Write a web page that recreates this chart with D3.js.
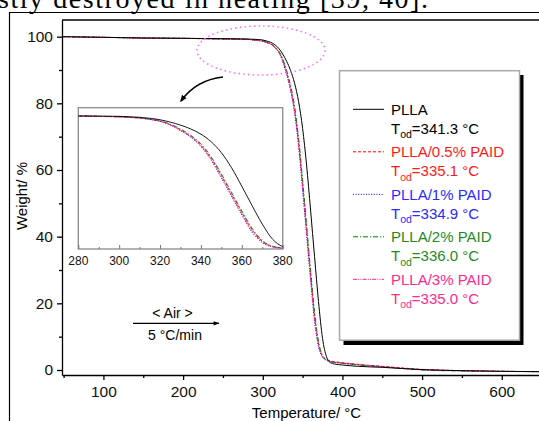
<!DOCTYPE html>
<html>
<head>
<meta charset="utf-8">
<script src="https://cdn.jsdelivr.net/npm/d3@7"></script>
<style>
  body { margin: 0; background: #fff; }
  svg { display: block; font-family: "Liberation Sans", Arial, sans-serif; }
</style>
</head>
<body>
<svg id="chart" width="539" height="421"></svg>
<script>
// temperatures (°C) and weight (%)
var temps = [48, 100, 150, 200, 250, 280, 290, 300, 305, 310, 315, 320, 325, 330, 335, 340, 345, 350, 355, 360, 365, 370, 375, 380, 385, 390, 400, 420, 450, 500, 550, 600, 650];
var plla  = [100, 99.8, 99.6, 99.5, 99.4, 99.3, 99.2, 99.0, 98.7, 98.3, 97.6, 96.5, 94.8, 92.6, 89.8, 86.0, 80.5, 72.5, 61.5, 48.0, 34.0, 20.5, 9.5, 4.0, 2.2, 1.8, 1.5, 1.1, 0.8, 0.1, -0.2, -0.4, -0.5];
var p05   = [100, 99.8, 99.6, 99.5, 99.3, 99.2, 99.0, 98.7, 98.3, 97.8, 96.9, 95.5, 93.0, 89.2, 84.5, 78.0, 68.5, 56.0, 42.5, 29.0, 16.5, 8.0, 4.2, 3.2, 2.7, 2.5, 2.2, 1.7, 1.1, 0.2, -0.2, -0.4, -0.5];
var p1    = [100, 99.8, 99.6, 99.5, 99.3, 99.2, 98.9, 98.6, 98.2, 97.7, 96.7, 95.3, 92.6, 88.5, 83.8, 77.0, 67.0, 54.0, 40.5, 27.0, 14.5, 7.0, 3.8, 2.9, 2.5, 2.3, 2.0, 1.6, 1.0, 0.1, -0.2, -0.4, -0.5];
var p2    = [100, 99.8, 99.6, 99.5, 99.3, 99.2, 99.0, 98.7, 98.4, 97.9, 97.0, 95.7, 93.4, 89.8, 85.2, 79.0, 69.5, 57.0, 43.5, 30.0, 17.5, 8.5, 4.3, 3.0, 2.5, 2.3, 2.0, 1.5, 1.0, 0.0, -0.3, -0.4, -0.5];
var p3    = [100, 99.8, 99.6, 99.5, 99.3, 99.2, 98.9, 98.6, 98.2, 97.8, 96.8, 95.4, 92.8, 88.9, 84.1, 77.5, 67.8, 55.0, 41.5, 28.0, 15.5, 7.5, 4.0, 3.0, 2.6, 2.4, 2.1, 1.6, 1.0, 0.1, -0.2, -0.4, -0.5];

var names  = ["PLLA", "PLLA/0.5% PAID", "PLLA/1% PAID", "PLLA/2% PAID", "PLLA/3% PAID"];
var tods   = ["341.3", "335.1", "334.9", "336.0", "335.0"];
var colors = ["#000000", "#ff0000", "#0000ff", "#008000", "#ff1f8f"];
var textColors = ["#000000", "#ff1a1a", "#2a2aff", "#1f8a1f", "#ff2a90"];
var dashes = [null, "3,2", "1,1.6", "5,2,1,2", "4,1.2,1,1.2,1,1.2"];
var seriesValues = [plla, p05, p1, p2, p3];

var xTicks = [100, 200, 300, 400, 500, 600];
var yTicks = [0, 20, 40, 60, 80, 100];
var insetTicks = [280, 300, 320, 340, 360, 380];

var svg = d3.select("#chart");

// cropped line of text from the paper above the figure
svg.append("text")
   .attr("x", -2).attr("y", 8)
   .attr("font-family", "Liberation Serif, Times New Roman, serif")
   .attr("font-size", 28)
   .attr("textLength", 430)
   .text("stly destroyed in heating [39, 40].");

// outer frame
svg.append("path")
   .attr("d", "M9.5,421 L9.5,12.5 L539,12.5")
   .attr("fill", "none").attr("stroke", "#000").attr("stroke-width", 1.2);

var x = d3.scaleLinear().domain([48, 650]).range([62, 541.6]);
var y = d3.scaleLinear().domain([-1.5, 105]).range([375, 20]);

var series = seriesValues.map(function(vals, i) {
    return temps.map(function(t, j) { return {t: t, w: vals[j]}; });
});

svg.append("clipPath").attr("id", "plotclip")
   .append("rect").attr("x", 62).attr("y", 20).attr("width", 480).attr("height", 355);

var line = d3.line()
    .x(function(d) { return x(d.t); })
    .y(function(d) { return y(d.w); })
    .curve(d3.curveMonotoneX);

var order = [1, 2, 3, 4, 0];
var plot = svg.append("g").attr("clip-path", "url(#plotclip)");
order.forEach(function(i) {
    plot.append("path")
        .attr("d", line(series[i]))
        .attr("fill", "none")
        .attr("stroke", colors[i])
        .attr("stroke-width", 1)
        .attr("stroke-dasharray", dashes[i]);
});

// axes
var xAxis = svg.append("g").attr("transform", "translate(0,375)")
    .call(d3.axisBottom(x).tickValues(xTicks).tickSize(5).tickSizeOuter(0).tickFormat(d3.format("d")));
svg.append("g").attr("transform", "translate(0,375)")
    .call(d3.axisBottom(x).tickValues([50, 150, 250, 350, 450, 550, 650]).tickSize(3).tickFormat(""))
    .select(".domain").remove();
var yAxis = svg.append("g").attr("transform", "translate(62,0)")
    .call(d3.axisLeft(y).tickValues(yTicks).tickSize(5).tickSizeOuter(0).tickFormat(d3.format("d")));
svg.append("g").attr("transform", "translate(62,0)")
    .call(d3.axisLeft(y).tickValues([10, 30, 50, 70, 90]).tickSize(3).tickFormat(""))
    .select(".domain").remove();

svg.selectAll(".domain, .tick line").attr("stroke", "#000").attr("stroke-width", 1.3);
xAxis.selectAll("text").attr("font-size", 15.5).attr("fill", "#111").attr("dy", "1.0em").attr("y", 6);
yAxis.selectAll("text").attr("font-size", 15.5).attr("fill", "#111").attr("x", -9);
svg.selectAll(".tick text").attr("font-family", "Liberation Sans, Arial, sans-serif");

// top frame line
svg.append("line").attr("x1", 62).attr("x2", 539).attr("y1", 20).attr("y2", 20)
   .attr("stroke", "#000").attr("stroke-width", 1.3);

// axis titles
svg.append("text").attr("x", 306.5).attr("y", 418).attr("text-anchor", "middle")
   .attr("font-size", 15).text("Temperature/ °C");
svg.append("text").attr("transform", "translate(27,196) rotate(-90)").attr("text-anchor", "middle")
   .attr("font-size", 15).text("Weight/ %");

// dotted ellipse around onset region
svg.append("ellipse").attr("cx", 261).attr("cy", 50.5).attr("rx", 64).attr("ry", 24.5)
   .attr("fill", "none").attr("stroke", "#ff70ff").attr("stroke-width", 1.6)
   .attr("stroke-dasharray", "1.5,3.2");

// curved arrow to inset
var defs = svg.append("defs");
defs.append("marker").attr("id", "ah").attr("viewBox", "0 0 10 10")
    .attr("refX", 8).attr("refY", 5).attr("markerWidth", 7).attr("markerHeight", 7)
    .attr("orient", "auto").attr("markerUnits", "userSpaceOnUse")
    .append("path").attr("d", "M0,1 L10,5 L0,9 Z").attr("fill", "#000");
defs.append("marker").attr("id", "ah2").attr("viewBox", "0 0 10 10")
    .attr("refX", 9).attr("refY", 5).attr("markerWidth", 9).attr("markerHeight", 6)
    .attr("orient", "auto").attr("markerUnits", "userSpaceOnUse")
    .append("path").attr("d", "M0,1.5 L10,5 L0,8.5 Z").attr("fill", "#000");
svg.append("path").attr("d", "M223,77 Q196,80 181,101")
   .attr("fill", "none").attr("stroke", "#000").attr("stroke-width", 1.6)
   .attr("marker-end", "url(#ah)");

// inset
var ix = d3.scaleLinear().domain([280, 380]).range([78.3, 282.7]);
var iy = d3.scaleLinear().domain([2.3, 105.3]).range([249, 107.7]);
svg.append("rect").attr("x", 78.3).attr("y", 107.7).attr("width", 204.4).attr("height", 141.3)
   .attr("fill", "#fff").attr("stroke", "#8a8a8a").attr("stroke-width", 1.3);
svg.append("clipPath").attr("id", "insetclip")
   .append("rect").attr("x", 78.3).attr("y", 107.7).attr("width", 204.4).attr("height", 141.3);
var iline = d3.line()
    .x(function(d) { return ix(d.t); })
    .y(function(d) { return iy(d.w); })
    .curve(d3.curveMonotoneX);
var inset = svg.append("g").attr("clip-path", "url(#insetclip)");
order.forEach(function(i) {
    inset.append("path")
        .attr("d", iline(series[i]))
        .attr("fill", "none")
        .attr("stroke", colors[i])
        .attr("stroke-width", 0.9)
        .attr("stroke-dasharray", dashes[i]);
});
var ixMajor = svg.append("g").attr("transform", "translate(0,249)")
    .call(d3.axisTop(ix).tickValues(insetTicks).tickSize(4).tickSizeOuter(0).tickFormat(""));
var ixMinor = svg.append("g").attr("transform", "translate(0,249)")
    .call(d3.axisTop(ix).tickValues([290, 310, 330, 350, 370]).tickSize(2).tickFormat(""));
ixMajor.select(".domain").remove();
ixMinor.select(".domain").remove();
ixMajor.selectAll(".tick line").attr("stroke", "#777").attr("stroke-width", 1);
ixMinor.selectAll(".tick line").attr("stroke", "#777").attr("stroke-width", 1);
svg.append("g").selectAll("text").data(insetTicks).enter().append("text")
   .attr("x", function(d) { return ix(d); }).attr("y", 265)
   .attr("text-anchor", "middle").attr("font-size", 12).attr("fill", "#111")
   .text(function(d) { return d; });

// heating rate annotation
svg.append("text").attr("x", 172.5).attr("y", 318).attr("text-anchor", "middle")
   .attr("font-size", 14).text("< Air >");
svg.append("line").attr("x1", 133).attr("x2", 219).attr("y1", 323.3).attr("y2", 323.3)
   .attr("stroke", "#000").attr("stroke-width", 1.3).attr("marker-end", "url(#ah2)");
svg.append("text").attr("x", 175).attr("y", 340).attr("text-anchor", "middle")
   .attr("font-size", 14).text("5 °C/min");

// legend
svg.append("rect").attr("x", 343.5).attr("y", 75).attr("width", 180).attr("height", 270)
   .attr("fill", "#000");
svg.append("rect").attr("x", 339.5).attr("y", 70.7).attr("width", 180).attr("height", 269.5)
   .attr("fill", "#fff").attr("stroke", "#a8a8a8").attr("stroke-width", 1.5);

var leg = svg.append("g").selectAll("g").data(names).enter().append("g")
    .attr("transform", function(d, i) { return "translate(0," + (109.3 + i * 42.5) + ")"; });
leg.append("line").attr("x1", 353).attr("x2", 384).attr("y1", 0).attr("y2", 0)
   .attr("stroke", function(d, i) { return colors[i]; })
   .attr("stroke-width", 1)
   .attr("stroke-dasharray", function(d, i) { return dashes[i]; });
leg.append("text").attr("x", 391).attr("y", 5.3).attr("font-size", 15)
   .attr("fill", function(d, i) { return textColors[i]; })
   .text(function(d) { return d; });
var tod = leg.append("text").attr("x", 391).attr("y", 24.5).attr("font-size", 15)
   .attr("fill", function(d, i) { return textColors[i]; });
tod.append("tspan").text("T");
tod.append("tspan").attr("font-size", 10.5).attr("dy", 4.5).text("od");
tod.append("tspan").attr("dy", -4.5).text(function(d, i) { return "=" + tods[i] + " °C"; });
</script>
</body>
</html>
